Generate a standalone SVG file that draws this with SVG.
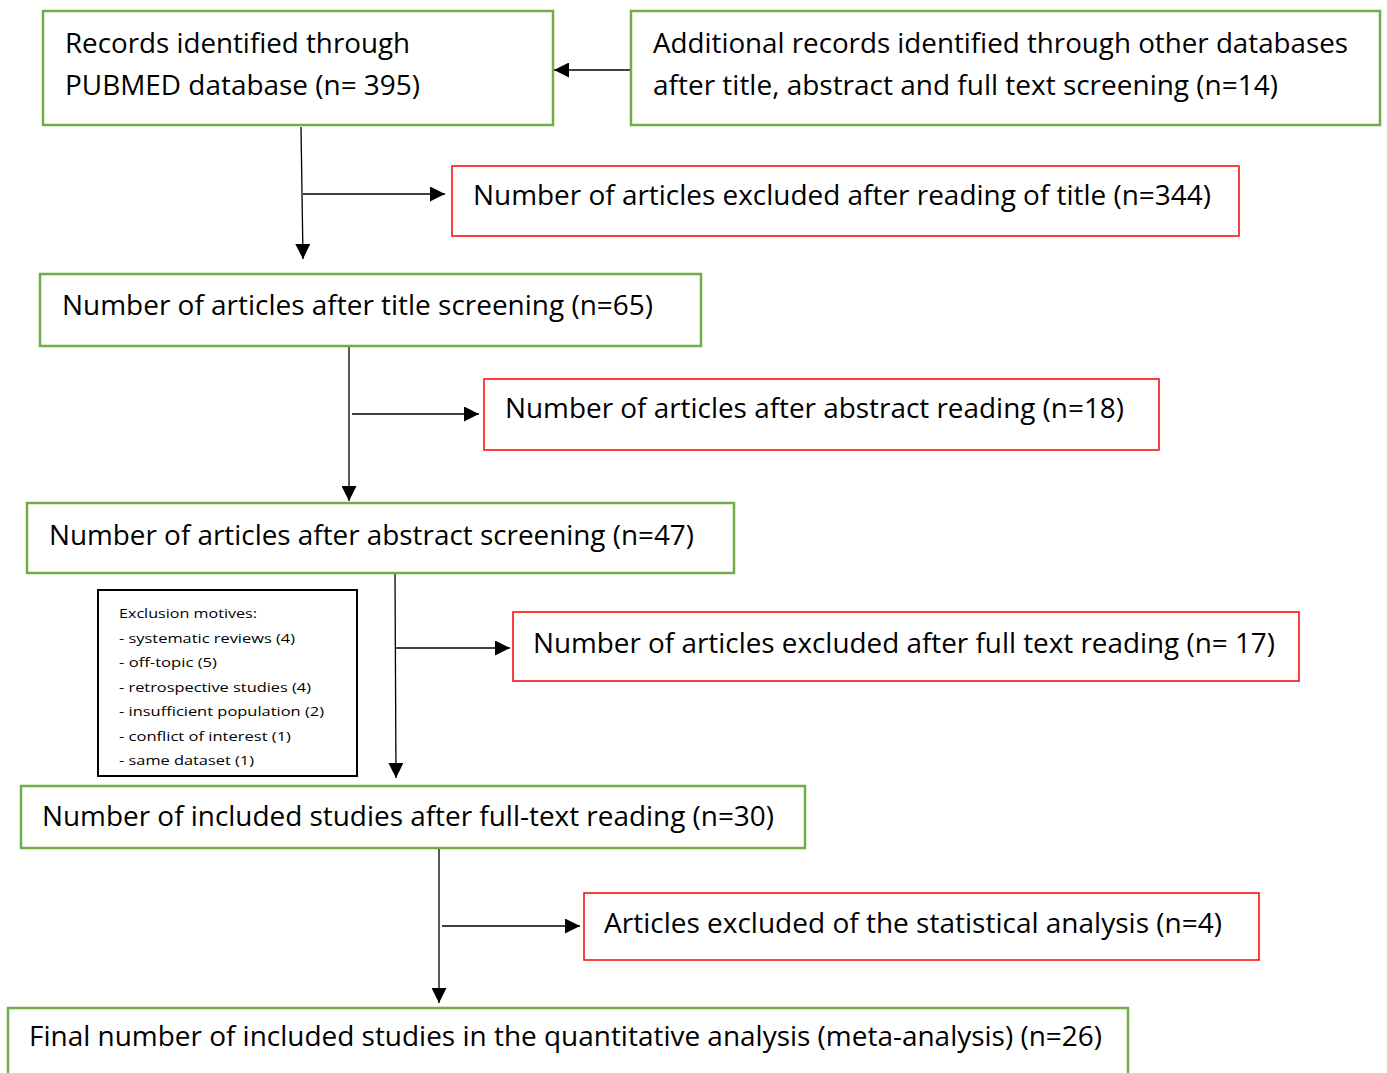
<svg xmlns="http://www.w3.org/2000/svg" width="1387" height="1073" viewBox="0 0 1387 1073">
<style>
.g{fill:#fff;stroke:#70AD47;stroke-width:2.5}
.r{fill:#fff;stroke:#FF0000;stroke-width:1.5}
.b{fill:#fff;stroke:#000;stroke-width:2}
.t{font-family:"Open Sans","Noto Sans",sans-serif;font-size:27px;fill:#000}
.s{font-family:"Open Sans","Noto Sans",sans-serif;font-size:13.5px;fill:#000}
.c{stroke:#000;stroke-width:1.3;fill:none}
</style>
<defs>
<marker id="ah" markerUnits="userSpaceOnUse" markerWidth="15" markerHeight="15" refX="15" refY="7.5" orient="auto">
<path d="M0,0 L15,7.5 L0,15 z" fill="#000"/>
</marker>
<clipPath id="exclip"><rect x="98" y="590" width="259" height="177"/></clipPath>
</defs>
<rect width="1387" height="1073" fill="#fff"/>
<g id="connectors">
<line class="c" x1="631" y1="70" x2="554" y2="70" marker-end="url(#ah)"/>
<line class="c" x1="301" y1="127" x2="303" y2="259" marker-end="url(#ah)"/>
<line class="c" x1="303" y1="194" x2="445" y2="194" marker-end="url(#ah)"/>
<line class="c" x1="349" y1="340" x2="349" y2="501" marker-end="url(#ah)"/>
<line class="c" x1="352" y1="414" x2="479" y2="414" marker-end="url(#ah)"/>
<line class="c" x1="395" y1="572" x2="396" y2="778" marker-end="url(#ah)"/>
<line class="c" x1="396" y1="648" x2="510" y2="648" marker-end="url(#ah)"/>
<line class="c" x1="439" y1="848" x2="439" y2="1003" marker-end="url(#ah)"/>
<line class="c" x1="442" y1="926" x2="580" y2="926" marker-end="url(#ah)"/>
</g>
<g id="pubmed">
<rect class="g" x="43" y="11" width="510" height="114"/>
<text class="t" x="65" y="53" textLength="345" lengthAdjust="spacingAndGlyphs">Records identified through</text>
<text class="t" x="65" y="95" textLength="355" lengthAdjust="spacingAndGlyphs">PUBMED database (n= 395)</text>
</g>
<g id="additional">
<rect class="g" x="631" y="11" width="749" height="114"/>
<text class="t" x="653" y="53" textLength="695" lengthAdjust="spacingAndGlyphs">Additional records identified through other databases</text>
<text class="t" x="653" y="95" textLength="625" lengthAdjust="spacingAndGlyphs">after title, abstract and full text screening (n=14)</text>
</g>
<g id="excluded-title">
<rect class="r" x="452" y="166" width="787" height="70"/>
<text class="t" x="473" y="205" textLength="738" lengthAdjust="spacingAndGlyphs">Number of articles excluded after reading of title (n=344)</text>
</g>
<g id="after-title">
<rect class="g" x="40" y="274" width="661" height="72"/>
<text class="t" x="62" y="315" textLength="591" lengthAdjust="spacingAndGlyphs">Number of articles after title screening (n=65)</text>
</g>
<g id="after-abstract-reading">
<rect class="r" x="484" y="379" width="675" height="71"/>
<text class="t" x="505" y="418" textLength="619" lengthAdjust="spacingAndGlyphs">Number of articles after abstract reading (n=18)</text>
</g>
<g id="after-abstract">
<rect class="g" x="27" y="503" width="707" height="70"/>
<text class="t" x="49" y="545" textLength="645" lengthAdjust="spacingAndGlyphs">Number of articles after abstract screening (n=47)</text>
</g>
<g id="exclusion-motives">
<rect class="b" x="98" y="590" width="259" height="186"/>
<g clip-path="url(#exclip)">
<text class="s" x="119" y="618" textLength="138" lengthAdjust="spacingAndGlyphs">Exclusion motives:</text>
<text class="s" x="119" y="642.5" textLength="176" lengthAdjust="spacingAndGlyphs">- systematic reviews (4)</text>
<text class="s" x="119" y="667" textLength="98" lengthAdjust="spacingAndGlyphs">- off-topic (5)</text>
<text class="s" x="119" y="691.5" textLength="192" lengthAdjust="spacingAndGlyphs">- retrospective studies (4)</text>
<text class="s" x="119" y="716" textLength="205" lengthAdjust="spacingAndGlyphs">- insufficient population (2)</text>
<text class="s" x="119" y="740.5" textLength="172" lengthAdjust="spacingAndGlyphs">- conflict of interest (1)</text>
<text class="s" x="119" y="765" textLength="135" lengthAdjust="spacingAndGlyphs">- same dataset (1)</text>
</g>
</g>
<g id="excluded-fulltext">
<rect class="r" x="513" y="612" width="786" height="69"/>
<text class="t" x="533" y="653" textLength="742" lengthAdjust="spacingAndGlyphs">Number of articles excluded after full text reading (n= 17)</text>
</g>
<g id="included-fulltext">
<rect class="g" x="21" y="786" width="784" height="62"/>
<text class="t" x="42" y="826" textLength="732" lengthAdjust="spacingAndGlyphs">Number of included studies after full-text reading (n=30)</text>
</g>
<g id="excluded-stat">
<rect class="r" x="584" y="893" width="675" height="67"/>
<text class="t" x="604" y="933" textLength="618" lengthAdjust="spacingAndGlyphs">Articles excluded of the statistical analysis (n=4)</text>
</g>
<g id="final">
<rect class="g" x="8" y="1008" width="1120" height="90"/>
<text class="t" x="29" y="1046" textLength="1073" lengthAdjust="spacingAndGlyphs">Final number of included studies in the quantitative analysis (meta-analysis) (n=26)</text>
</g>
</svg>
